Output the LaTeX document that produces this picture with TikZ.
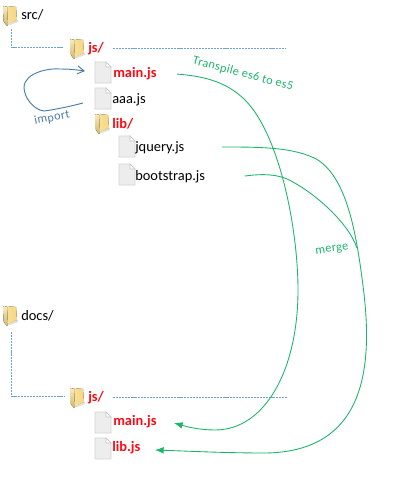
\documentclass[tikz,border=0pt]{standalone}
\usepackage{fontspec}
\setmainfont{Carlito}
\usetikzlibrary{arrows.meta}
\definecolor{lnk}{HTML}{6FA3D8}
\definecolor{imp}{HTML}{4A7EA8}
\definecolor{grn}{HTML}{1DB56B}
\definecolor{fred}{HTML}{FF0A14}
\definecolor{fold}{HTML}{F5D77F}
\tikzset{
  x=0.75pt,y=-0.75pt,
  tree/.style={draw=lnk,line width=0.55pt,dash pattern=on 1.6pt off 0.7pt},
  flow/.style={draw=grn,line width=0.65pt},
  back/.style={draw=imp,line width=0.7pt},
  lab/.style={inner sep=0pt,anchor=west,font=\fontsize{10.8pt}{13pt}\selectfont,text=black},
  redlab/.style={lab,font=\fontsize{10.8pt}{13pt}\selectfont\bfseries,text=fred},
  note/.style={inner sep=0pt,font=\fontsize{9.2pt}{10pt}\selectfont\addfontfeatures{LetterSpace=3}},
  pics/folder/.style={code={
    \fill[left color=fold!70!white,right color=fold] (4,-9) -- (13,-8) -- (14,5) -- (6,9) -- (2,9) -- (0,-7) -- cycle;
    \fill[top color=fold!50!white,bottom color=fold!85!black] (4,-8) -- (1,-9) -- (0,-8) -- (0.5,6) -- (4,11) -- (5,9) -- cycle;
    \fill[black!12] (5,9) -- (15,5) -- (15,7) -- (7,10) -- cycle;
  }},
  pics/docfile/.style={code={
    \filldraw[fill=black!7,draw=black!17,line width=0.6pt] (-8,-11) -- (3,-11) -- (8,-6) -- (8,10) -- (-8,10) -- cycle;
    \filldraw[fill=white,draw=black!22,line width=0.5pt] (3,-11) -- (3,-6) -- (8,-6) -- cycle;
  }}
}
\begin{document}
\begin{tikzpicture}
\useasboundingbox (0,0) rectangle (403,504);
\fill[white] (0,0) rectangle (403,504);
% icons
\pic at (3,15) {folder};
\pic at (70,48) {folder};
\pic at (95,123) {folder};
\pic at (3,315) {folder};
\pic at (70,397) {folder};
\pic at (103,73) {docfile};
\pic at (103,99) {docfile};
\pic at (127,147) {docfile};
\pic at (127,175) {docfile};
\pic at (103,423) {docfile};
\pic at (103,449) {docfile};
% labels
\node[lab] (src) at (21,15) {src/};
\node[redlab] (js1) at (88,49) {js/};
\node[redlab] (main1) at (113,74) {main.js};
\node[lab] (aaa) at (112,100) {aaa.js};
\node[redlab] (lib) at (112,124) {lib/};
\node[lab] (jq) at (135,148) {jquery.js};
\node[lab] (bs) at (135,177) {bootstrap.js};
\node[lab] (docs) at (21,316) {docs/};
\node[redlab] (js2) at (88,398) {js/};
\node[redlab] (main2) at (113,422) {main.js};
\node[redlab] (libjs) at (112,448) {lib.js};
\node[note,text=grn,rotate=-15] (tr) at (243,74) {Transpile es6 to es5};
\node[note,text=grn,rotate=8] (mg) at (332,250) {merge};
\node[note,text=imp,rotate=11] (im) at (52,118) {import};
% free connector ends
\coordinate (a) at (11,29); \coordinate (a1) at (11,47); \coordinate (a2) at (63,47);
\coordinate (b) at (113,48); \coordinate (b2) at (285,48);
\coordinate (c) at (11,332); \coordinate (c1) at (11,396); \coordinate (c2) at (65,396);
\coordinate (d) at (113,397); \coordinate (d2) at (287,397);
\draw[tree] (a) -- (a1) -- (a2);
\draw[tree] (b) -- (b2);
\draw[tree] (c) -- (c1) -- (c2);
\draw[tree] (d) -- (d2);
% import
\coordinate (i0) at (83,103); \coordinate (i1) at (85,71);
\draw[back,-{Straight Barb[length=5pt,width=6pt]}] (i0)
  .. controls (68,107) and (52,110) .. (44,111)
  .. controls (34,110) and (24,98) .. (24,87)
  .. controls (25,72) and (50,68) .. (60,69)
  .. controls (70,69) and (78,70) .. (i1);
% transpile
\coordinate (t0) at (177,74); \coordinate (t1) at (174,423);
\draw[flow,-{Latex[length=6.5pt,width=5pt]}] (t0)
  .. controls (200,76) and (225,80) .. (245,100)
  .. controls (280,135) and (298,230) .. (298,290)
  .. controls (298,370) and (265,430) .. (215,430)
  .. controls (200,430) and (188,427) .. (t1);
% jquery
\coordinate (j0) at (222,147); \coordinate (j1) at (155,450);
\draw[flow,-{Latex[length=6.5pt,width=5pt]}] (j0)
  .. controls (260,147) and (295,147) .. (318,160)
  .. controls (345,178) and (355,225) .. (362,278)
  .. controls (372,350) and (375,452) .. (265,453)
  .. controls (225,453) and (185,451) .. (j1);
% bootstrap
\coordinate (s0) at (245,176); \coordinate (s1) at (357,248);
\draw[flow] (s0)
  .. controls (260,174) and (278,173) .. (293,182)
  .. controls (315,194) and (348,222) .. (s1);
\end{tikzpicture}
\end{document}
